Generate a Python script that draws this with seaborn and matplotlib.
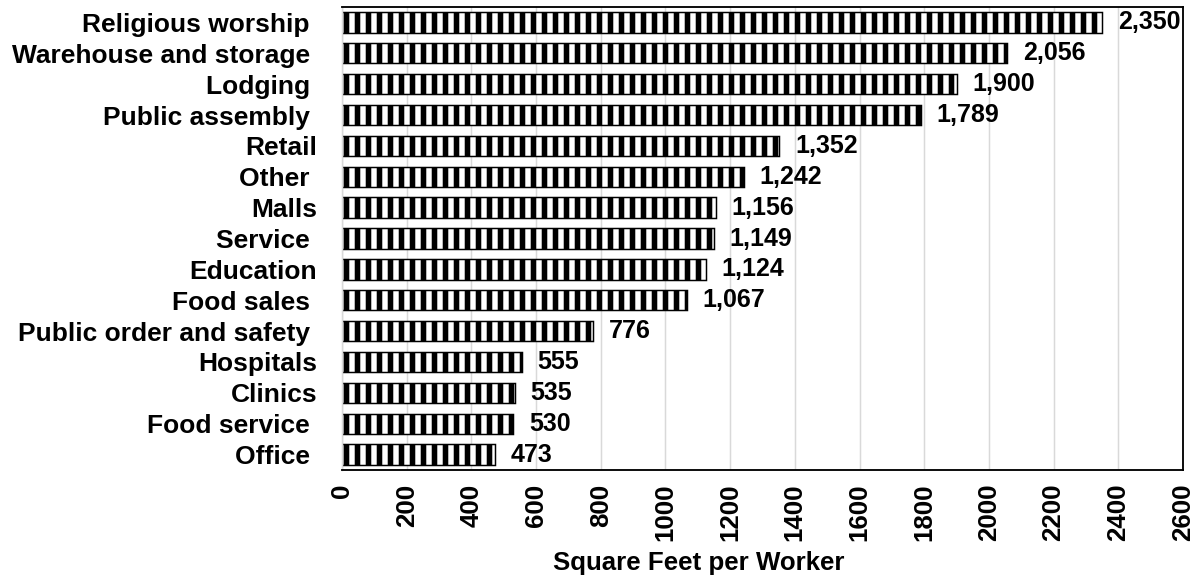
import matplotlib
matplotlib.use("Agg")
import matplotlib.pyplot as plt
import seaborn as sns

categories = ["Religious worship ", "Warehouse and storage ", "Lodging ", "Public assembly ",
              "Retail", "Other ", "Malls", "Service ", "Education", "Food sales ",
              "Public order and safety ", "Hospitals", "Clinics", "Food service ", "Office "]
values = [2350, 2056, 1900, 1789, 1352, 1242, 1156, 1149, 1124, 1067, 776, 555, 535, 530, 473]
xticks = list(range(0, 2601, 200))

sns.set_theme(style="white")
plt.rcParams["font.family"] = ["Liberation Sans", "DejaVu Sans"]
plt.rcParams["font.weight"] = "bold"
plt.rcParams["text.color"] = "black"
plt.rcParams["xtick.color"] = "black"
plt.rcParams["ytick.color"] = "black"
plt.rcParams["axes.labelcolor"] = "black"
plt.rcParams["hatch.linewidth"] = 6.0
plt.rcParams["hatch.color"] = "black"

DPI = 200 / 3
fig = plt.figure(figsize=(1203 / DPI, 575 / DPI), dpi=DPI)
ax = fig.add_axes([342 / 1203, 1 - 470 / 575, (1183 - 342) / 1203, (470 - 7) / 575])

sns.barplot(x=values, y=categories, orient="h", color="white", edgecolor="black",
            linewidth=1.6, hatch="|", width=0.66, ax=ax, saturation=1)

ax.set_xlim(0, 2600)
ax.set_xticks(xticks)
ax.set_xticklabels([str(t) for t in xticks], rotation=90, fontsize=28, fontweight="bold")
ax.tick_params(axis="x", length=0, pad=15)
ax.tick_params(axis="y", length=0, pad=27, labelsize=28.5)
for lbl in ax.get_yticklabels():
    lbl.set_fontweight("bold")
ax.grid(axis="x", color="#d9d9d9", linewidth=1.6)
ax.set_axisbelow(True)
ax.set_ylabel("")
ax.set_xlabel("Square Feet per Worker", fontsize=28, fontweight="bold")
ax.xaxis.set_label_coords((699 - 342) / 841, -0.176)

for side in ["top", "right", "bottom"]:
    ax.spines[side].set_color("black")
    ax.spines[side].set_linewidth(2)
ax.spines["left"].set_color("#d9d9d9")
ax.spines["left"].set_linewidth(1.6)

ax.bar_label(ax.containers[0], labels=[f"{v:,}" for v in values], padding=17,
             fontsize=27, fontweight="bold", color="black")

fig.savefig("out.png", dpi=DPI)
